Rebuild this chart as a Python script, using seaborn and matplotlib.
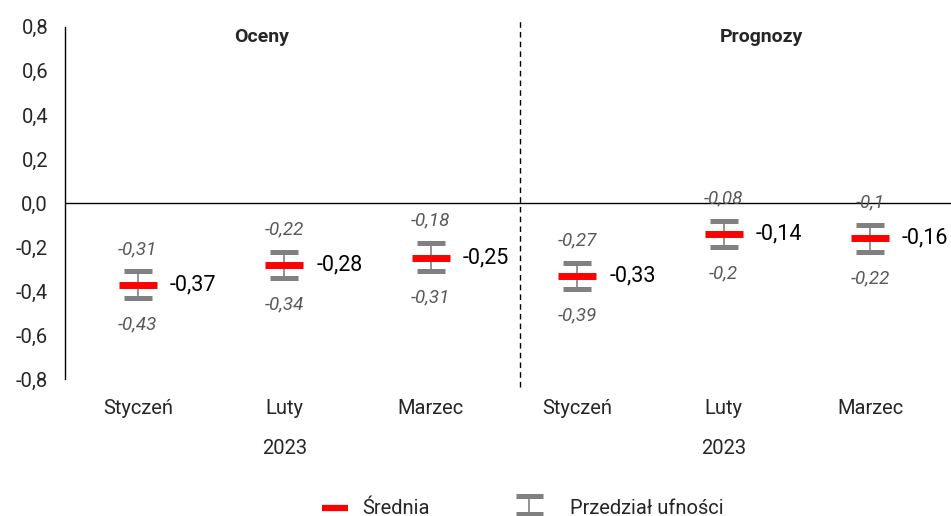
import numpy as np
import pandas as pd
import matplotlib.pyplot as plt
import seaborn as sns
from matplotlib.lines import Line2D

# Data
months = ["Styczeń", "Luty", "Marzec", "Styczeń", "Luty", "Marzec"]
means = [-0.37, -0.28, -0.25, -0.33, -0.14, -0.16]
upper = [-0.31, -0.22, -0.18, -0.27, -0.08, -0.10]
lower = [-0.43, -0.34, -0.31, -0.39, -0.20, -0.22]
mean_labels = ["-0,37", "-0,28", "-0,25", "-0,33", "-0,14", "-0,16"]
upper_labels = ["-0,31", "-0,22", "-0,18", "-0,27", "-0,08", "-0,1"]
lower_labels = ["-0,43", "-0,34", "-0,31", "-0,39", "-0,2", "-0,22"]
groups = ["Oceny", "Prognozy"]
years = ["2023", "2023"]
yticks = [-0.8, -0.6, -0.4, -0.2, 0.0, 0.2, 0.4, 0.6, 0.8]

df = pd.DataFrame({"pos": np.arange(len(months)), "mean": means,
                   "upper": upper, "lower": lower})

sns.set_theme(style="white")
plt.rcParams["font.family"] = ["Roboto", "DejaVu Sans"]

fig = plt.figure(figsize=(9.51, 5.16), dpi=100)
ax = fig.add_axes([0.068, 0.265, 0.924, 0.683])

# confidence intervals
ax.errorbar(df["pos"], df["mean"],
            yerr=[df["mean"] - df["lower"], df["upper"] - df["mean"]],
            fmt="none", ecolor="#808080", elinewidth=1.2,
            capsize=9.8, capthick=3.6, zorder=2)

# means
sns.scatterplot(data=df, x="pos", y="mean", marker="_", s=760,
                color="#ff0000", linewidth=5, ax=ax, zorder=3, legend=False)
ax.collections[-1].set_capstyle("butt")

for i in range(len(months)):
    ax.annotate(mean_labels[i], (i, means[i]), xytext=(23, 0),
                textcoords="offset points", va="center", ha="left",
                fontsize=15.5, color="black", annotation_clip=False)
    ax.annotate(upper_labels[i], (i, upper[i]), xytext=(0, 16),
                textcoords="offset points", va="center", ha="center",
                fontsize=13.5, color="#595959", style="italic")
    ax.annotate(lower_labels[i], (i, lower[i]), xytext=(0, -19),
                textcoords="offset points", va="center", ha="center",
                fontsize=13.5, color="#595959", style="italic")

ax.set_xlim(-0.5, len(months) - 0.5)
ax.set_ylim(-0.8, 0.8)
ax.set_yticks(yticks)
ax.set_yticklabels([f"{v:.1f}".replace(".", ",") for v in yticks], fontsize=14.5)
ax.set_xticks(range(len(months)))
ax.set_xticklabels(months, fontsize=14.5)
ax.tick_params(axis="y", length=0, pad=12)
ax.tick_params(axis="x", length=0, pad=14)
ax.set_xlabel("")
ax.set_ylabel("")

for s in ["top", "right", "bottom"]:
    ax.spines[s].set_visible(False)
ax.spines["left"].set_color("black")
ax.spines["left"].set_linewidth(1)

ax.plot([-0.5, 5.6], [0, 0], color="black", linewidth=1, zorder=1, clip_on=False)
ax.plot([2.61, 2.61], [-0.835, 0.84], color="black", linestyle=(0, (4, 3)),
        linewidth=1, clip_on=False, zorder=1)

# group titles and year labels
for x, g in zip([0.845, 4.26], groups):
    ax.text(x, 0.755, g, ha="center", va="center", fontsize=14, fontweight="bold")
for x, y in zip([1, 4], years):
    ax.text(x, -1.114, y, ha="center", va="center", fontsize=14.5, clip_on=False)

# legend drawn by hand in figure pixels
W, H = 951, 516
def fx(px):
    return px / W
def fy(py):
    return 1 - py / H

fig.add_artist(Line2D([fx(322), fx(348)], [fy(508), fy(508)], color="#ff0000",
                      linewidth=4.5, solid_capstyle="butt"))
fig.text(fx(362), fy(508), "Średnia", fontsize=14.5, va="center", ha="left")
fig.add_artist(Line2D([fx(529), fx(529)], [fy(496), fy(514)], color="#808080",
                      linewidth=1.2))
for yy in [496, 514]:
    fig.add_artist(Line2D([fx(516), fx(543)], [fy(yy), fy(yy)], color="#808080",
                          linewidth=3.6, solid_capstyle="butt"))
fig.text(fx(570), fy(508), "Przedział ufności", fontsize=14.5, va="center", ha="left")

fig.savefig("out.png", dpi=100)
